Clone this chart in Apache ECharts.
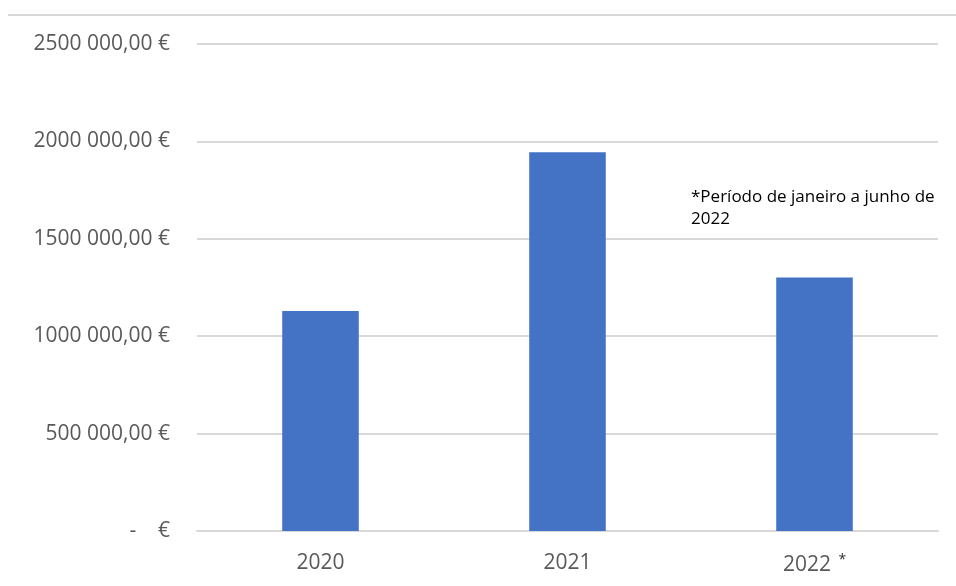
<!DOCTYPE html>
<html>
<head>
<meta charset="utf-8">
<script src="https://cdn.jsdelivr.net/npm/echarts@6/dist/echarts.min.js"></script>
<style>html,body{margin:0;padding:0;background:#fff}#c{width:956px;height:586px}</style>
</head>
<body>
<div id="c"></div>
<script>
const categories = ['2020', '2021', '2022'];
const values = [1129000, 1944000, 1301000];
const yTickLabels = ['-    €', '500 000,00 €', '1000 000,00 €', '1500 000,00 €', '2000 000,00 €', '2500 000,00 €'];
const note = ['*Período de janeiro a junho de', '2022'];

const chart = echarts.init(document.getElementById('c'));
chart.setOption({
  animation: false,
  backgroundColor: '#ffffff',
  grid: { left: 197, right: 18, top: 44, bottom: 55, containLabel: false },
  xAxis: {
    type: 'category',
    data: categories,
    axisLine: { show: true, lineStyle: { color: '#d9d9d9', width: 2 } },
    axisTick: { show: false },
    axisLabel: {
      margin: 22,
      fontFamily: 'Open Sans',
      fontSize: 21,
      color: '#595959',
      formatter: function (v) { return v === '2022' ? '{a|' + v + '} {s|*}' : '{a|' + v + '}'; },
      rich: {
        a: { fontFamily: 'Open Sans', fontSize: 21, color: '#595959' },
        s: { fontFamily: 'Open Sans', fontSize: 14, color: '#333333', verticalAlign: 'top', padding: [0, 0, 10, 2] }
      }
    }
  },
  yAxis: {
    type: 'value',
    min: 0, max: 2500000, interval: 500000,
    axisLine: { show: false },
    axisTick: { show: false },
    splitLine: { lineStyle: { color: '#d9d9d9', width: 2 } },
    axisLabel: {
      margin: 27,
      fontFamily: 'Open Sans',
      fontSize: 21,
      color: '#595959',
      formatter: function (v) { return yTickLabels[Math.round(v / 500000)]; }
    }
  },
  series: [{
    type: 'bar',
    data: values,
    barWidth: '31%',
    itemStyle: { color: '#4472C4' }
  }],
  graphic: [
    { type: 'line', shape: { x1: 8, y1: 15, x2: 956, y2: 15 }, style: { stroke: '#d9d9d9', lineWidth: 2 } },
    { type: 'text', left: 691, top: 186, style: { text: note.join('\n'), fontFamily: 'Open Sans', fontSize: 17, lineHeight: 22, fill: '#000000' } }
  ]
});
</script>
</body>
</html>
